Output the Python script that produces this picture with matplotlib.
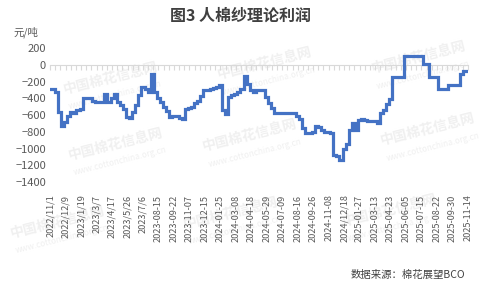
import matplotlib
matplotlib.use("Agg")
import matplotlib.pyplot as plt
from matplotlib.ticker import MultipleLocator

plt.rcParams['font.family'] = ['Noto Sans CJK SC', 'DejaVu Sans']

TITLE = "图3 人棉纱理论利润"
UNIT = "元/吨"
SOURCE = "数据来源：棉花展望BCO"

# x tick labels, one every 5 points
tick_labels = [
    "2022/11/1", "2022/12/9", "2023/1/19", "2023/3/7", "2023/4/17", "2023/5/26",
    "2023/7/6", "2023-08-15", "2023-09-22", "2023-11-07", "2023-12-15",
    "2024-01-25", "2024-03-08", "2024-04-18", "2024-05-29", "2024-07-09",
    "2024-08-16", "2024-09-26", "2024-11-08", "2024/12/18", "2025-01-27",
    "2025-03-13", "2025-04-23", "2025-06-05", "2025-07-15", "2025-08-22",
    "2025-09-30", "2025-11-14",
]
LABEL_STEP = 5

# theoretical profit, yuan/ton
profit = [
    -290, -290, -320, -560, -730, -680, -610, -560, -570, -540,
    -530, -400, -400, -400, -430, -440, -440, -440, -350, -440,
    -400, -350, -440, -480, -530, -620, -640, -560, -480, -360,
    -270, -290, -330, -110, -330, -400, -440, -500, -550, -620,
    -610, -610, -630, -650, -530, -520, -500, -450, -430, -370,
    -300, -300, -285, -280, -270, -240, -540, -590, -390, -355,
    -345, -330, -290, -130, -230, -300, -320, -300, -300, -300,
    -390, -450, -515, -580, -580, -580, -580, -580, -580, -580,
    -615, -650, -760, -820, -820, -800, -725, -740, -780, -800,
    -800, -810, -1075, -1090, -1135, -1010, -950, -780, -700, -780,
    -655, -650, -665, -670, -670, -670, -690, -580, -540, -470,
    -410, -140, -140, -140, -140, 110, 110, 110, 110, 110,
    110, 10, 10, -140, -140, -140, -290, -290, -290, -240,
    -240, -240, -240, -110, -75, -75,
]

fig = plt.figure(figsize=(4.81, 2.88), dpi=100)
ax = fig.add_axes([0.104, 0.368, 0.869, 0.465])
ax.set_zorder(2)

# faint watermarks, behind the axes
wm_pos = [(0.23, 0.73), (0.55, 0.78), (0.87, 0.80),
          (0.24, 0.50), (0.52, 0.53), (0.89, 0.55),
          (0.12, 0.23), (0.48, 0.26), (0.81, 0.27)]
for x, y in wm_pos:
    fig.text(x, y, "中国棉花信息网", fontsize=10, fontweight='bold', color='#f0f0f0',
             rotation=14, ha='center', va='center', zorder=-5)
    fig.text(x + 0.01, y - 0.06, "www.cottonchina.org.cn", fontsize=6, color='#f0f0f0',
             rotation=14, ha='center', va='center', zorder=-5)

xs = list(range(len(profit)))
ax.plot(xs, profit, color='#4472C4', linewidth=2.3, drawstyle='steps-mid',
        solid_joinstyle='miter', zorder=3)

ax.set_xlim(-0.05, len(profit) - 1 + 0.05)
ax.set_ylim(-1400, 200)
ax.yaxis.set_major_locator(MultipleLocator(200))
ax.tick_params(axis='y', length=0, labelsize=8, labelcolor='#595959', pad=3)
ax.set_facecolor('none')

for s in ['left', 'right', 'top']:
    ax.spines[s].set_visible(False)
# category axis line sits at zero
ax.spines['bottom'].set_position(('data', 0))
ax.spines['bottom'].set_color('#d9d9d9')
ax.spines['bottom'].set_linewidth(0.8)
ax.set_xticks(range(0, len(profit), LABEL_STEP))
ax.xaxis.set_minor_locator(MultipleLocator(LABEL_STEP / 3))
ax.tick_params(axis='x', which='both', direction='out', length=3.5, width=0.8,
               color='#d9d9d9', labelbottom=False)

# labels placed at the bottom of the plot area
sec = ax.secondary_xaxis(0)
sec.set_xticks(range(0, len(profit), LABEL_STEP))
sec.set_xticklabels(tick_labels, rotation=90, fontsize=6.6, color='#595959')
sec.tick_params(axis='x', length=0, pad=9)
sec.spines['bottom'].set_visible(False)

fig.text(0.5, 0.945, TITLE, fontsize=11.5, fontweight='bold', color='#404040',
         ha='center', va='center')
fig.text(0.028, 0.888, UNIT, fontsize=7.5, color='#595959', ha='left', va='center')
fig.text(0.968, 0.045, SOURCE, fontsize=7.5, color='#404040', ha='right', va='center')

fig.savefig("out.png", dpi=100)
